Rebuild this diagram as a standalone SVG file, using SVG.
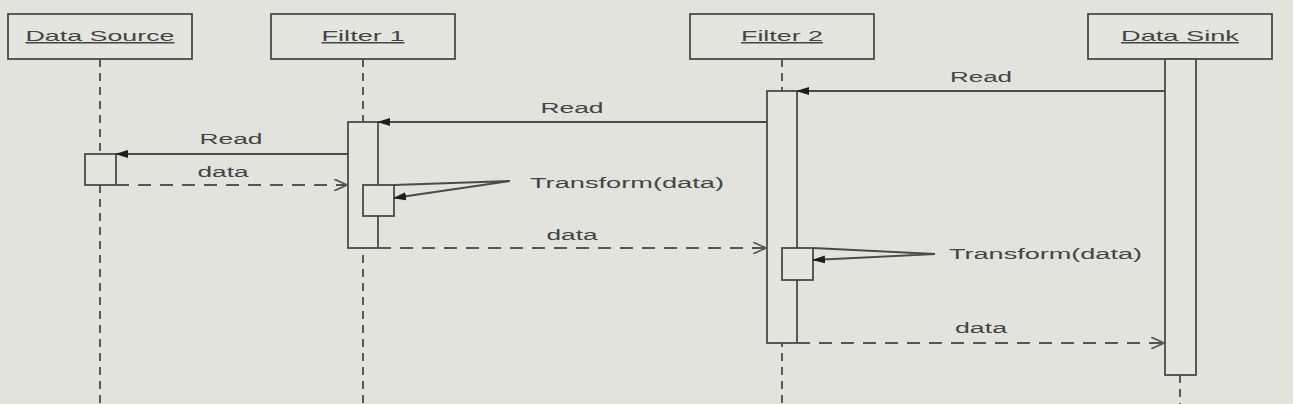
<svg xmlns="http://www.w3.org/2000/svg" width="1293" height="404" viewBox="0 0 1293 404">
<style>
.bg{fill:#e1e3dc}
.box{fill:#e3e5de;stroke:#4a4a4a;stroke-width:1.8}
.act{fill:#e3e5de;stroke:#4a4a4a;stroke-width:1.8}
.life{stroke:#4a4a4a;stroke-width:1.8;stroke-dasharray:8 6;fill:none}
.msg{stroke:#4a4a4a;stroke-width:1.8;fill:none}
.ret{stroke:#555;stroke-width:1.8;fill:none;stroke-dasharray:13 9}
.hd{font-family:"Liberation Sans",Arial,sans-serif;font-size:15px;fill:#444;text-decoration:underline}
.lbl{font-family:"Liberation Sans",Arial,sans-serif;font-size:14px;fill:#444}
</style>
<defs>
<marker id="fill" viewBox="0 0 13 10" refX="12" refY="5" markerWidth="13" markerHeight="10" markerUnits="userSpaceOnUse" orient="auto">
<path d="M0,1 L13,5 L0,9 Z" fill="#1e1e1e"/>
</marker>
<marker id="open" viewBox="0 0 14 12" refX="13" refY="6" markerWidth="14" markerHeight="12" markerUnits="userSpaceOnUse" orient="auto">
<path d="M0,0 L13,6 L0,12" fill="none" stroke="#555" stroke-width="1.6"/>
</marker>
</defs>
<rect class="bg" x="0" y="0" width="1293" height="404"/>
<g id="lifelines">
<line class="life" x1="100" y1="59" x2="100" y2="404"/>
<line class="life" x1="363" y1="59" x2="363" y2="404"/>
<line class="life" x1="782" y1="59" x2="782" y2="404"/>
<line class="life" x1="1180" y1="375" x2="1180" y2="404"/>
</g>
<g id="data-source">
<rect class="box" x="8" y="14" width="184" height="45"/>
<text class="hd" x="100" y="41" text-anchor="middle" textLength="149" lengthAdjust="spacingAndGlyphs">Data Source</text>
<rect class="act" x="85" y="154" width="31" height="31"/>
</g>
<g id="filter1">
<rect class="box" x="271" y="14" width="184" height="45"/>
<text class="hd" x="363" y="41" text-anchor="middle" textLength="83" lengthAdjust="spacingAndGlyphs">Filter 1</text>
<rect class="act" x="348" y="122" width="30" height="126"/>
<rect class="act" x="363" y="185" width="31" height="31"/>
</g>
<g id="filter2">
<rect class="box" x="690" y="14" width="184" height="45"/>
<text class="hd" x="782" y="41" text-anchor="middle" textLength="82" lengthAdjust="spacingAndGlyphs">Filter 2</text>
<rect class="act" x="767" y="91" width="30" height="252"/>
<rect class="act" x="782" y="248" width="31" height="32"/>
</g>
<g id="data-sink">
<rect class="box" x="1088" y="14" width="184" height="45"/>
<text class="hd" x="1180" y="41" text-anchor="middle" textLength="118" lengthAdjust="spacingAndGlyphs">Data Sink</text>
<rect class="act" x="1165" y="59" width="31" height="316"/>
</g>
<g id="connectors">
<line class="msg" x1="1165" y1="91" x2="797" y2="91" marker-end="url(#fill)"/>
<text class="lbl" x="981" y="82" text-anchor="middle" textLength="62" lengthAdjust="spacingAndGlyphs">Read</text>
<line class="msg" x1="767" y1="122" x2="378" y2="122" marker-end="url(#fill)"/>
<text class="lbl" x="572" y="113" text-anchor="middle" textLength="63" lengthAdjust="spacingAndGlyphs">Read</text>
<line class="msg" x1="348" y1="154" x2="116" y2="154" marker-end="url(#fill)"/>
<text class="lbl" x="231" y="144" text-anchor="middle" textLength="63" lengthAdjust="spacingAndGlyphs">Read</text>
<line class="ret" x1="116" y1="185" x2="347" y2="185" marker-end="url(#open)"/>
<text class="lbl" x="223" y="177" text-anchor="middle" textLength="51" lengthAdjust="spacingAndGlyphs">data</text>
<path class="msg" d="M394,185 L510,181 L394,198" marker-end="url(#fill)"/>
<text class="lbl" x="530" y="188" textLength="194" lengthAdjust="spacingAndGlyphs">Transform(data)</text>
<line class="ret" x1="378" y1="248" x2="766" y2="248" marker-end="url(#open)"/>
<text class="lbl" x="572" y="240" text-anchor="middle" textLength="51" lengthAdjust="spacingAndGlyphs">data</text>
<path class="msg" d="M813,248 L935,254 L813,260" marker-end="url(#fill)"/>
<text class="lbl" x="949" y="259" textLength="193" lengthAdjust="spacingAndGlyphs">Transform(data)</text>
<line class="ret" x1="797" y1="343" x2="1164" y2="343" marker-end="url(#open)"/>
<text class="lbl" x="981" y="333" text-anchor="middle" textLength="52" lengthAdjust="spacingAndGlyphs">data</text>
</g>
</svg>
